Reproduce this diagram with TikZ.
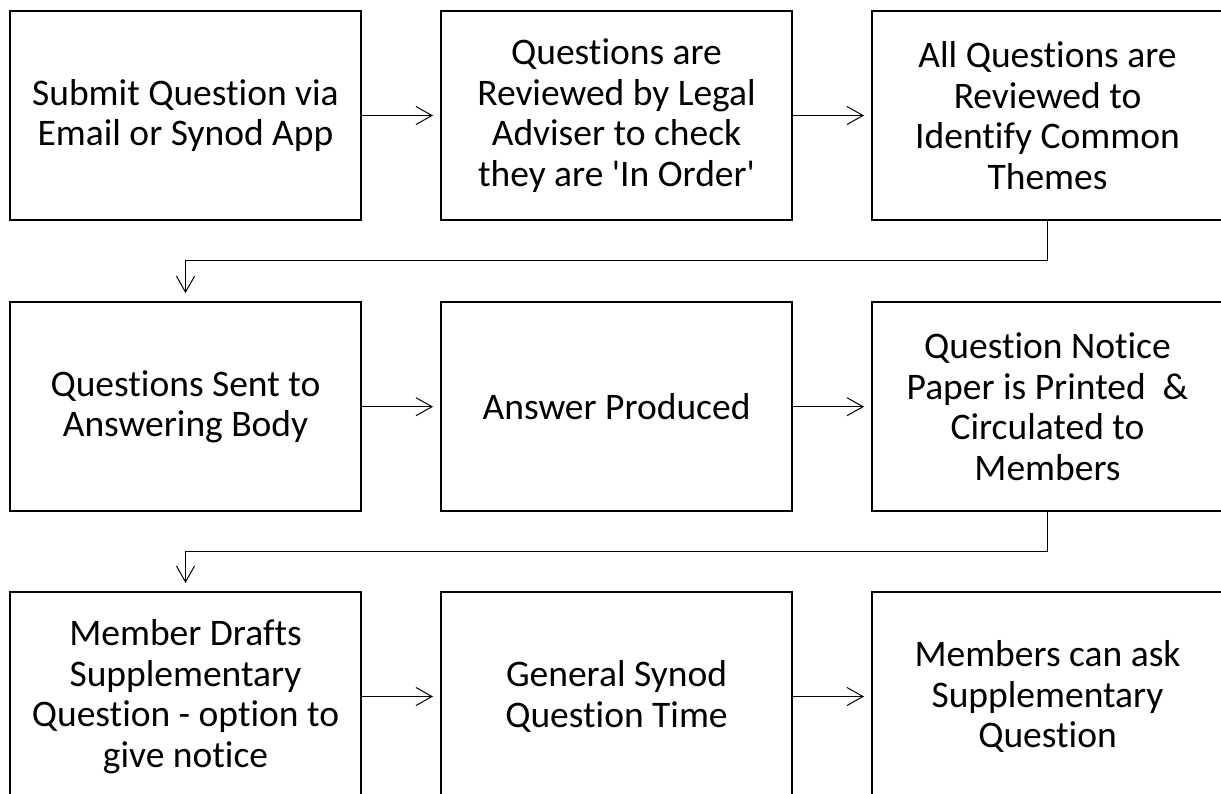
\documentclass[tikz,border=0pt]{standalone}
\usepackage{fontspec}
\setmainfont{Carlito}[Ligatures={TeXOff,NoCommon}]
\usetikzlibrary{arrows.meta}
\begin{document}
\begin{tikzpicture}[x=1pt,y=-1pt,
  box/.style={draw, line width=2pt, minimum width=351pt, minimum height=209pt, inner sep=0pt, align=center, font=\fontsize{37.5pt}{40.5pt}\selectfont},
  conn/.style={line width=1pt, -{Straight Barb[length=16pt,width=18pt,line width=1pt]}, shorten >=7pt}]
\useasboundingbox (0,0) rectangle (1221,793);
\clip (0,0) rectangle (1221,793);
\node[box] (b1) at (185.5,115.5) {Submit Question via\\Email or Synod App};
\node[box] (b2) at (616.5,115.5) {Questions are\\Reviewed by Legal\\Adviser to check\\they are 'In Order'};
\node[box] (b3) at (1047.5,115.5) {All Questions are\\Reviewed to\\Identify Common\\Themes};
\node[box] (b4) at (185.5,406.7) {Questions Sent to\\Answering Body};
\node[box] (b5) at (616.5,406.7) {Answer Produced};
\node[box] (b6) at (1047.5,406.7) {Question Notice\\Paper is Printed\ \ \&\\Circulated to\\Members};
\node[box] (b7) at (185.5,696.5) {Member Drafts\\Supplementary\\Question - option to\\give notice};
\node[box] (b8) at (616.5,696.5) {General Synod\\Question Time};
\node[box] (b9) at (1047.5,696.5) {Members can ask\\Supplementary\\Question};
\coordinate (t1) at (1047.5,260);
\coordinate (t2) at (185.5,260);
\coordinate (u1) at (1047.5,551);
\coordinate (u2) at (185.5,551);
\draw[conn] (b1.east) -- (b2.west);
\draw[conn] (b2.east) -- (b3.west);
\draw[conn] (b4.east) -- (b5.west);
\draw[conn] (b5.east) -- (b6.west);
\draw[conn] (b7.east) -- (b8.west);
\draw[conn] (b8.east) -- (b9.west);
\draw[conn, shorten >=8pt] (b3.south) -- (t1) -- (t2) -- (b4.north);
\draw[conn, shorten >=8pt] (b6.south) -- (u1) -- (u2) -- (b7.north);
\end{tikzpicture}
\end{document}
